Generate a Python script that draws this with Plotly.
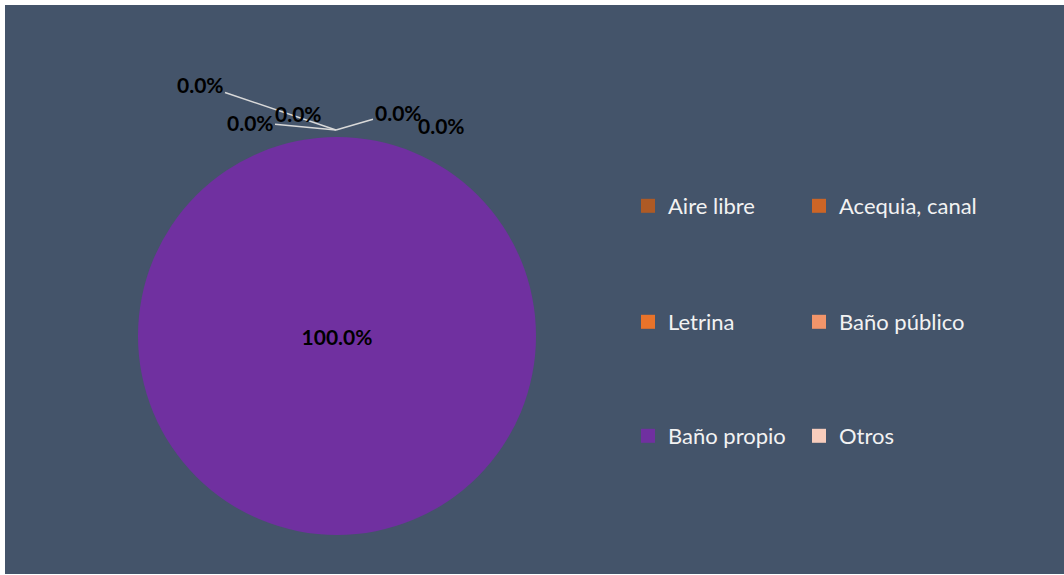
import plotly.graph_objects as go

# ---- data ----
categories = ["Aire libre", "Acequia, canal", "Letrina", "Baño público", "Baño propio", "Otros"]
values = [0, 0, 0, 0, 100, 0]
colors = ["#AE5A25", "#CC6526", "#E8732A", "#F2956A", "#7030A0", "#F8CDBD"]

BG = "#44546A"
W, H = 1064, 575
ML, MT, MR, MB = 5, 5, 0, 1
PW, PH = W - ML - MR, H - MT - MB


def px_x(p):
    return (p - ML) / PW


def px_y(p):
    return 1 - (p - MT) / PH


total = sum(values)
pct = [v / total * 100 for v in values]
texts = [f"{p:.1f}%" if v > 0 else "" for p, v in zip(pct, values)]
LABEL_FONT = dict(family="Lato", size=21, color="black", weight="bold")

fig = go.Figure()

# pie
fig.add_trace(go.Pie(
    labels=categories, values=values, sort=False, direction="clockwise", rotation=0,
    marker=dict(colors=colors, line=dict(width=0)),
    text=texts, textinfo="text", textposition="inside",
    insidetextfont=LABEL_FONT,
    showlegend=False, hoverinfo="label+percent",
    domain=dict(x=[px_x(138), px_x(536)], y=[px_y(535), px_y(137)]),
))

# legend entries: one legend per entry, laid out in a 2-column grid
col_x = [628, 799]
row_y = [206, 322, 436]
layout_legends = {}
for i, (cat, col) in enumerate(zip(categories, colors)):
    lname = "legend" if i == 0 else f"legend{i + 1}"
    fig.add_trace(go.Scatter(
        x=[None], y=[None], mode="markers", name=cat,
        marker=dict(symbol="square", size=14, color=col),
        legend=lname, showlegend=True,
    ))
    layout_legends[lname] = dict(
        x=px_x(col_x[i % 2]), y=px_y(row_y[i // 2]),
        xanchor="left", yanchor="middle",
        font=dict(family="Lato", size=22, color="#F2F2F2"),
        bgcolor="rgba(0,0,0,0)", itemclick=False, itemdoubleclick=False,
    )

# zero-value labels with leader lines (anchored near top of pie)
zero_labels = [f"{p:.1f}%" for p, v in zip(pct, values) if v == 0]
anchor_x, anchor_y = px_x(336), px_y(130)
offsets = [(-136, -46, True), (-86, -8, True), (-38, -17, False), (62, -18, True), (105, -5, False)]
annotations = []
for lab, (ax, ay, arrow) in zip(zero_labels, offsets):
    if arrow:
        annotations.append(dict(
            x=anchor_x, y=anchor_y, xref="paper", yref="paper", text=lab,
            showarrow=True, ax=ax, ay=ay, arrowhead=0, arrowwidth=1.5,
            arrowcolor="#D9D9D9", standoff=0, font=LABEL_FONT,
        ))
    else:
        annotations.append(dict(
            x=anchor_x, y=anchor_y, xref="paper", yref="paper", text=lab,
            showarrow=False, xshift=ax, yshift=-ay,
            xanchor="center", yanchor="middle", font=LABEL_FONT,
        ))

fig.update_layout(
    width=W, height=H,
    margin=dict(l=ML, r=MR, t=MT, b=MB),
    paper_bgcolor="white", plot_bgcolor="rgba(0,0,0,0)",
    xaxis=dict(visible=False), yaxis=dict(visible=False),
    shapes=[dict(type="rect", xref="paper", yref="paper", x0=0, x1=1, y0=0, y1=1,
                 fillcolor=BG, line=dict(width=0), layer="below")],
    annotations=annotations,
    **layout_legends,
)

fig.write_html("out.html", config={"displayModeBar": False},
               post_script="document.body.style.margin='0';")
